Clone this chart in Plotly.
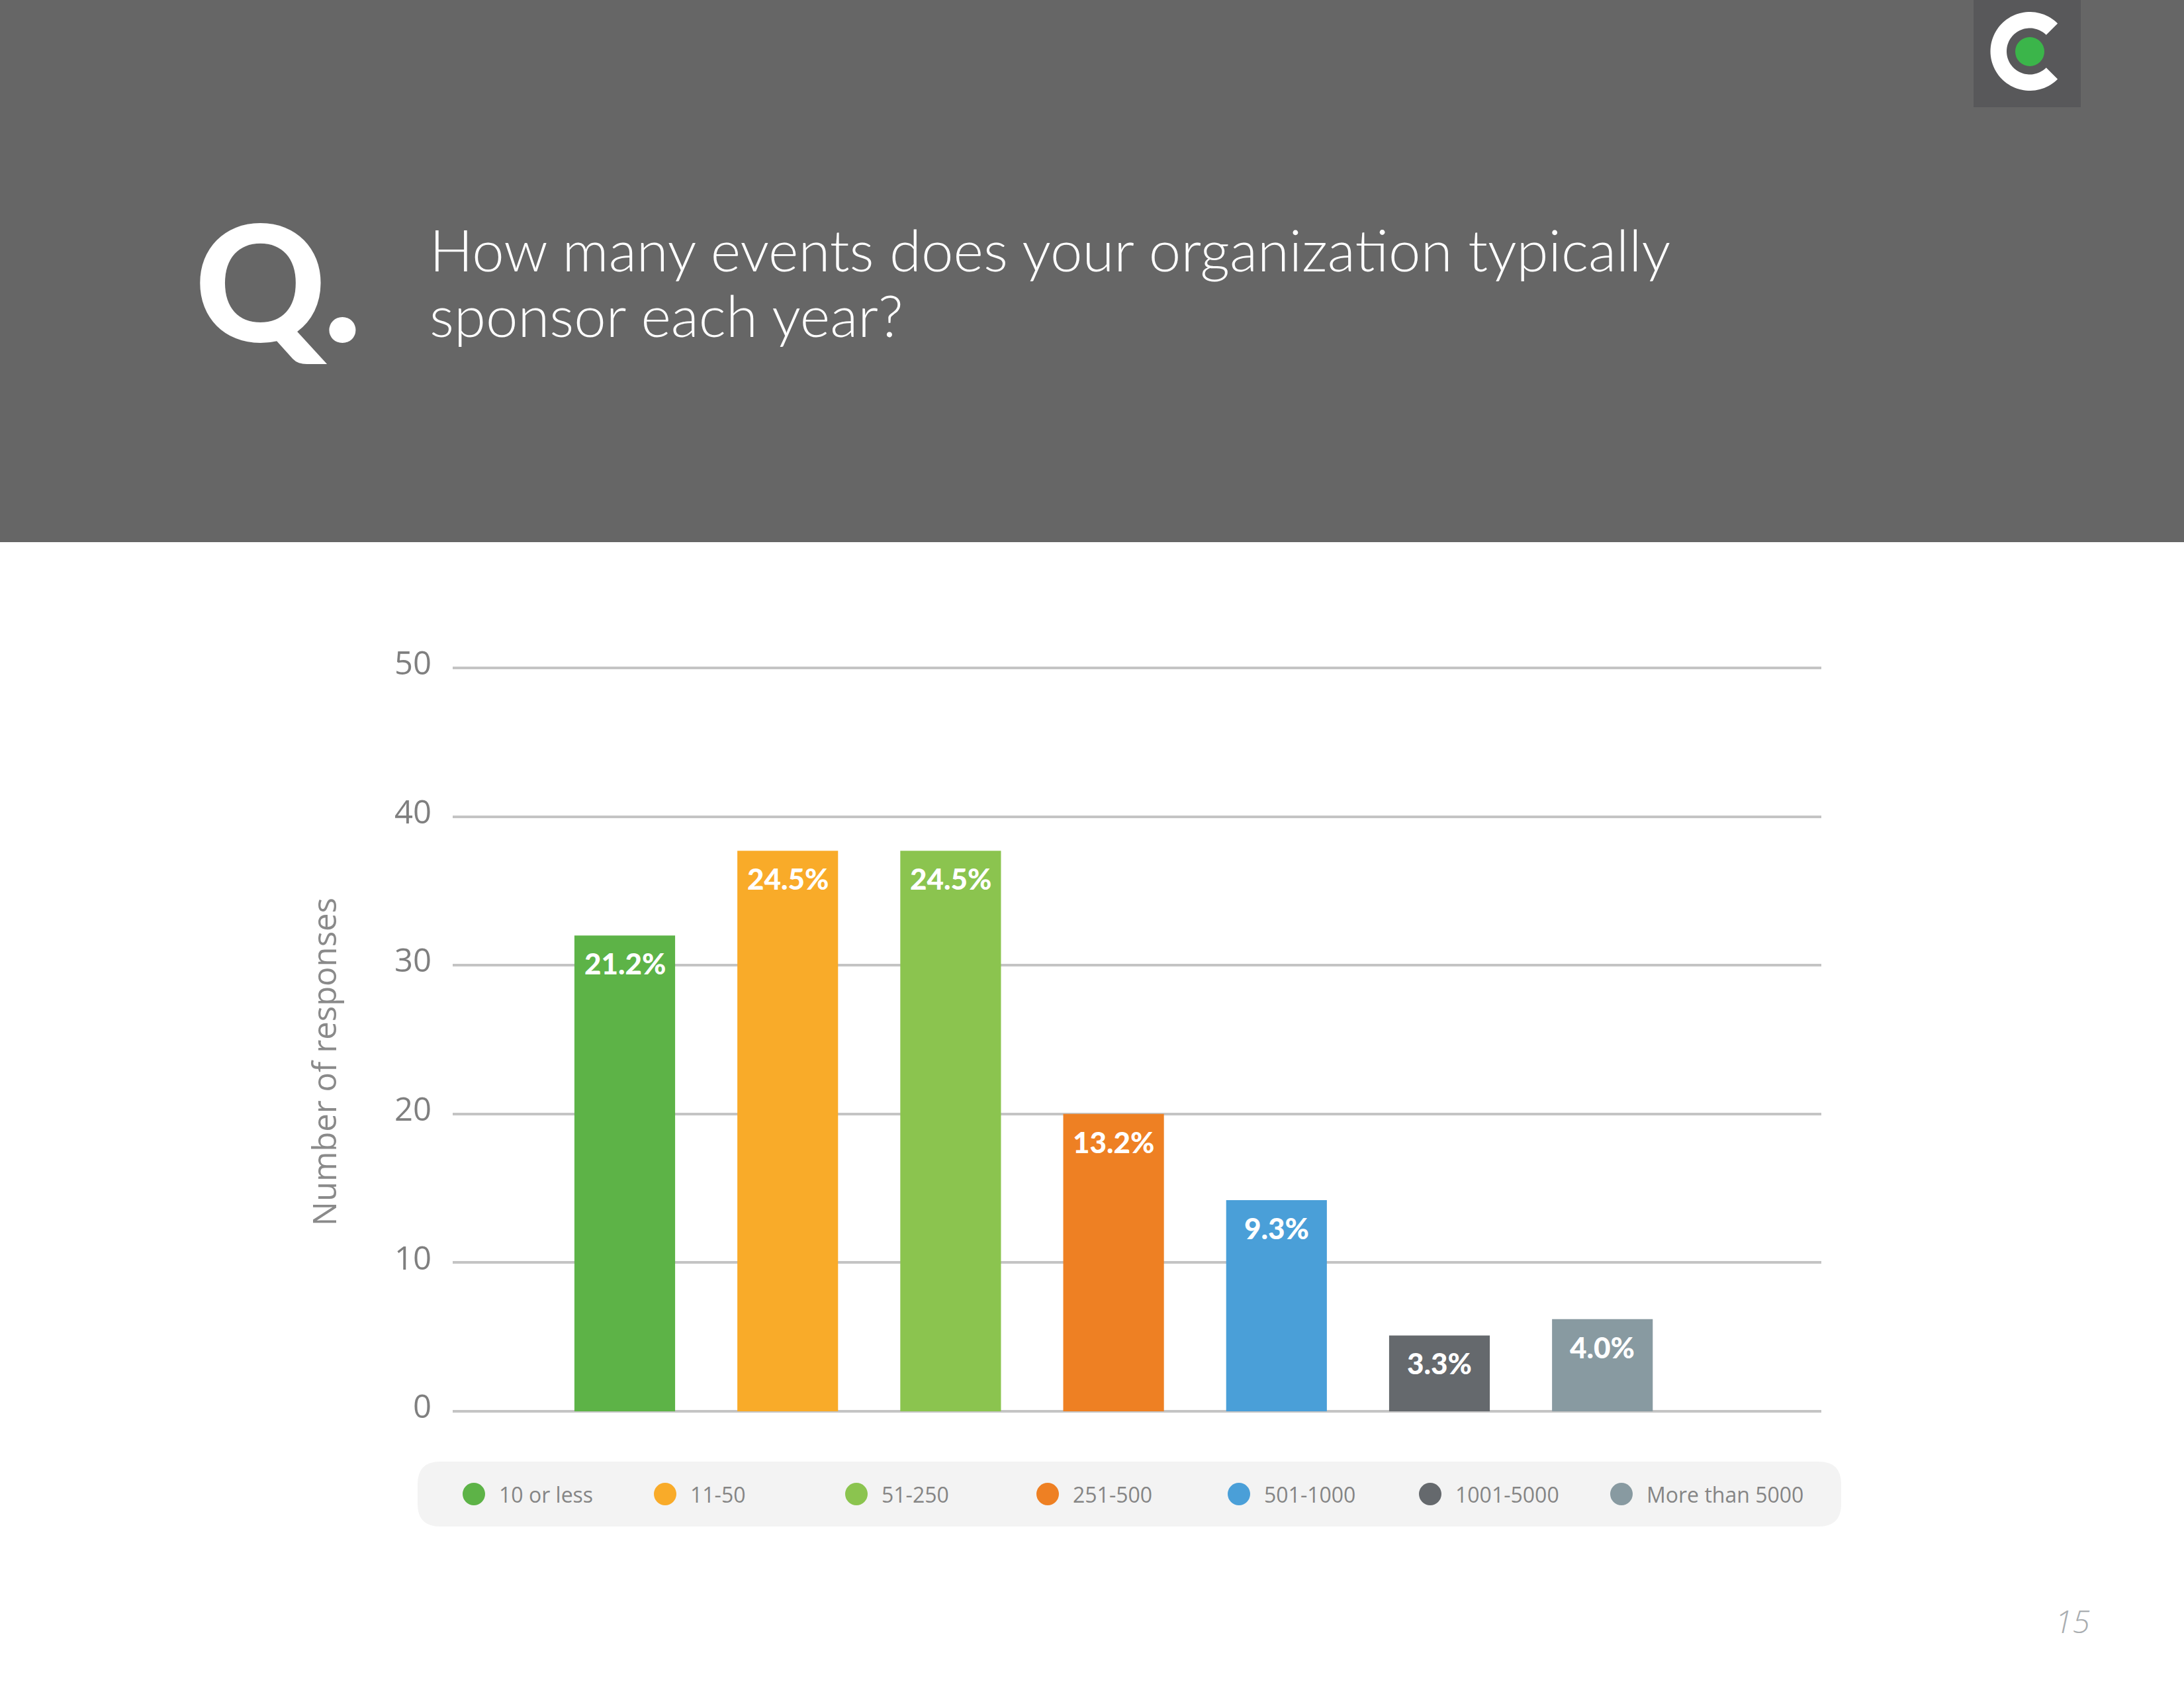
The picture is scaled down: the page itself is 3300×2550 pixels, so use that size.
import math
import plotly.graph_objects as go

# ---------------- data ----------------
categories = ["10 or less", "11-50", "51-250", "251-500", "501-1000", "1001-5000", "More than 5000"]
responses = [32, 37.7, 37.7, 20, 14.2, 5.1, 6.2]
pct_labels = ["21.2%", "24.5%", "24.5%", "13.2%", "9.3%", "3.3%", "4.0%"]
bar_colors = ["#5db347", "#f9ab29", "#8bc44f", "#ee8023", "#4a9fd8", "#65696d", "#889aa1"]
y_ticks = [0, 10, 20, 30, 40, 50]
question = ["How many events does your organization typically", "sponsor each year?"]
y_title = "Number of responses"
page_no = "15"

# ---------------- geometry helpers (page pixels -> paper) ----------------
W, H = 3300, 2550


def px(x):
    return x / W


def py(y):
    return 1 - y / H


def pt(x, y):
    return f"{px(x):.6f},{py(y):.6f}"


def rrect_path(x0, y0, x1, y1, r):
    return (f"M{pt(x0 + r, y0)} L{pt(x1 - r, y0)} Q{pt(x1, y0)} {pt(x1, y0 + r)} "
            f"L{pt(x1, y1 - r)} Q{pt(x1, y1)} {pt(x1 - r, y1)} "
            f"L{pt(x0 + r, y1)} Q{pt(x0, y1)} {pt(x0, y1 - r)} "
            f"L{pt(x0, y0 + r)} Q{pt(x0, y0)} {pt(x0 + r, y0)} Z")


def c_ring_path(cx, cy, R, r, gap_deg):
    pts = []
    n = 80
    a0, a1 = gap_deg, 360 - gap_deg
    for i in range(n + 1):
        a = math.radians(a0 + (a1 - a0) * i / n)
        pts.append((cx + R * math.cos(a), cy - R * math.sin(a)))
    for i in range(n + 1):
        a = math.radians(a1 - (a1 - a0) * i / n)
        pts.append((cx + r * math.cos(a), cy - r * math.sin(a)))
    return "M" + " L".join(pt(x, y) for x, y in pts) + " Z"


# plot area in page pixels (y value 0 at PB, 50 at PT)
PL, PR, PT, PB = 684, 2752, 1009, 2132
YMAX = 50.6
PT_EXT = PB - (PB - PT) * YMAX / 50
c0, step = 944, 246.2
# legend band in page pixels
LL, LR, LT, LB = 631, 2782, 2208, 2306
lc0, lstep = 716, 289

fig = go.Figure()

fig.add_trace(go.Bar(
    x=categories, y=responses, width=0.618,
    marker=dict(color=bar_colors, line=dict(width=0)),
    hoverinfo="skip", showlegend=False, xaxis="x", yaxis="y",
))

# legend dots
fig.add_trace(go.Scatter(
    x=categories, y=[0] * len(categories), mode="markers",
    marker=dict(size=34, color=bar_colors, line=dict(width=0)),
    hoverinfo="skip", showlegend=False, xaxis="x2", yaxis="y2", cliponaxis=False,
))

annotations = []
for cat, val, lab in zip(categories, responses, pct_labels):
    annotations.append(dict(
        x=cat, y=val, xref="x", yref="y", text=lab, showarrow=False,
        yanchor="middle", xanchor="center", yshift=-42,
        font=dict(family="Lato", size=44, color="white", weight=900),
    ))
for cat in categories:
    annotations.append(dict(
        x=cat, y=0, xref="x2", yref="y2", text=cat, showarrow=False,
        xanchor="left", yanchor="middle", xshift=36,
        font=dict(family="Open Sans", size=32, color="#858585"),
    ))

# Q.
annotations.append(dict(
    x=px(292), y=py(421), xref="paper", yref="paper", text="Q.", showarrow=False,
    xanchor="left", yanchor="middle",
    font=dict(family="Lato", size=245, color="white", weight=900),
))
# question lines
for i, line in enumerate(question):
    annotations.append(dict(
        x=px(647), y=py(376 + 100 * i), xref="paper", yref="paper", text=line,
        showarrow=False, xanchor="left", yanchor="middle",
        font=dict(family="Lato", size=87, color="white", weight=300),
    ))
# y title
annotations.append(dict(
    x=px(489), y=py(1604), xref="paper", yref="paper", text=y_title, showarrow=False,
    textangle=-90, xanchor="center", yanchor="middle",
    font=dict(family="Open Sans", size=49, color="#8a8a8a"),
))
# page number
annotations.append(dict(
    x=px(3160), y=py(2448), xref="paper", yref="paper", text=page_no, showarrow=False,
    xanchor="right", yanchor="middle",
    font=dict(family="Open Sans", size=48, color="#a9adb0", style="italic", weight=300),
))

shapes = [
    # header band
    dict(type="rect", xref="paper", yref="paper", x0=0, x1=1, y0=py(819), y1=1,
         fillcolor="#666666", line=dict(width=0), layer="below"),
    # logo box
    dict(type="rect", xref="paper", yref="paper", x0=px(2982), x1=px(3144), y0=py(162), y1=1,
         fillcolor="#58585a", line=dict(width=0), layer="below"),
    # logo C
    dict(type="path", xref="paper", yref="paper", path=c_ring_path(3067, 77.5, 59.5, 35, 45),
         fillcolor="white", line=dict(width=0), layer="above"),
    # logo dot
    dict(type="circle", xref="paper", yref="paper", x0=px(3045), x1=px(3089), y0=py(100), y1=py(56),
         fillcolor="#3bb54a", line=dict(width=0), layer="above"),
    # legend pill
    dict(type="path", xref="paper", yref="paper", path=rrect_path(LL, LT, LR, LB, 34),
         fillcolor="#f3f3f3", line=dict(width=0), layer="below"),
]

fig.update_layout(
    width=W, height=H,
    margin=dict(l=0, r=0, t=0, b=0, pad=0, autoexpand=False),
    paper_bgcolor="white", plot_bgcolor="rgba(0,0,0,0)",
    barmode="overlay",
    xaxis=dict(
        domain=[px(PL), px(PR)], type="category", categoryorder="array", categoryarray=categories,
        range=[(PL - c0) / step, (PR - c0) / step],
        showticklabels=False, showgrid=False, zeroline=False, showline=False, ticks="",
        fixedrange=True, automargin=False,
    ),
    yaxis=dict(
        domain=[py(PB), py(PT_EXT)], range=[0, YMAX], tickvals=y_ticks,
        showgrid=True, gridcolor="#c4c4c4", gridwidth=4,
        zeroline=True, zerolinecolor="#c4c4c4", zerolinewidth=4,
        showline=False, ticks="", ticklabelstandoff=31, ticklabelshift=-7,
        tickfont=dict(family="Open Sans", size=49, color="#7f7f7f"),
        fixedrange=True, automargin=False,
    ),
    xaxis2=dict(
        domain=[px(LL), px(LR)], type="category", categoryorder="array", categoryarray=categories,
        range=[(LL - lc0) / lstep, (LR - lc0) / lstep], anchor="y2",
        visible=False, fixedrange=True, automargin=False,
    ),
    yaxis2=dict(
        domain=[py(LB), py(LT)], range=[-1, 1], anchor="x2", visible=False, fixedrange=True,
        automargin=False,
    ),
    annotations=annotations,
    shapes=shapes,
    showlegend=False,
)

post_js = (
    "document.documentElement.style.margin='0';document.body.style.margin='0';"
    "document.body.style.padding='0';document.documentElement.style.overflow='hidden';"
)

fig.write_html("out.html", config={"displayModeBar": False}, post_script=post_js)
